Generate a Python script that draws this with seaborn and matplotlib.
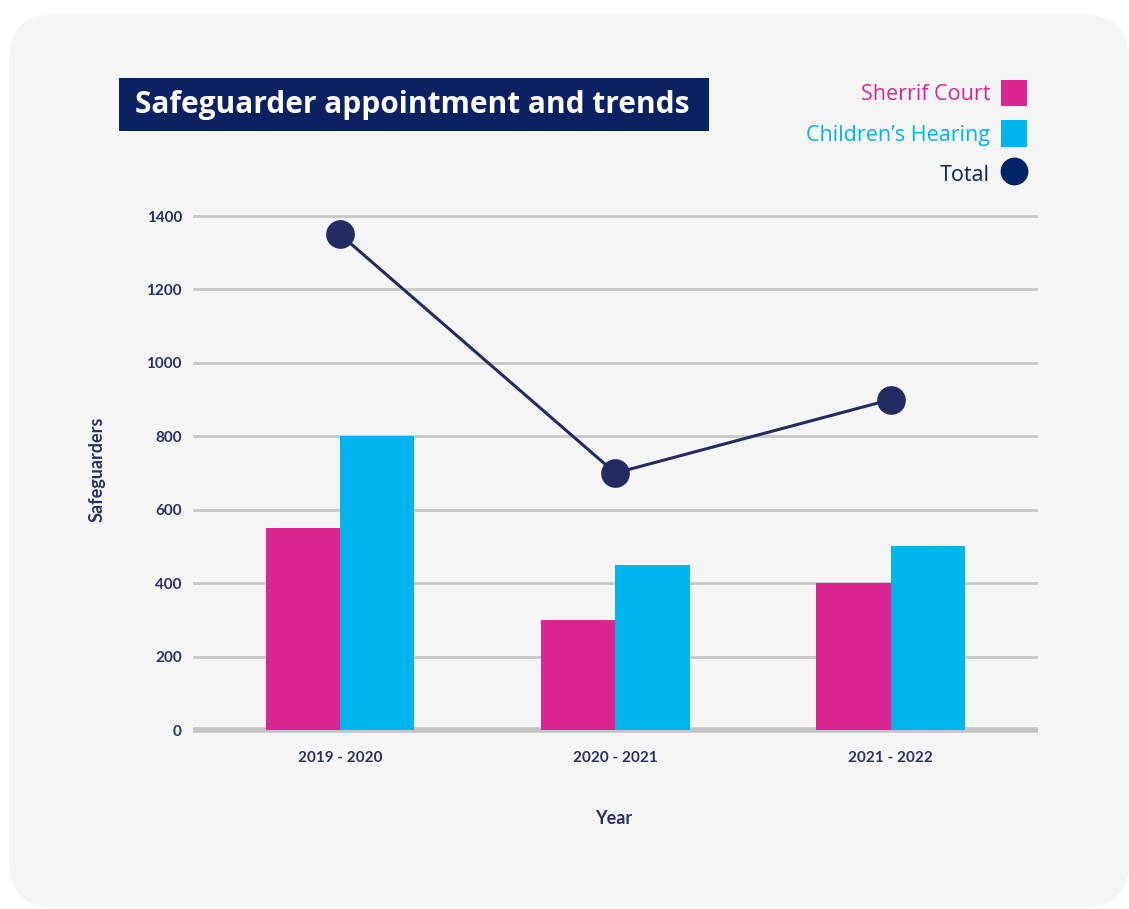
import matplotlib
matplotlib.use('Agg')
import matplotlib.pyplot as plt
import seaborn as sns
import pandas as pd
from matplotlib.patches import Patch, Rectangle, FancyBboxPatch
from matplotlib.lines import Line2D

years = ['2019 - 2020', '2020 - 2021', '2021 - 2022']
sherrif_court = [550, 300, 400]
childrens_hearing = [800, 450, 500]
total = [1350, 700, 900]
series_names = ['Sherrif Court', 'Children\u2019s Hearing']
y_ticks = [0, 200, 400, 600, 800, 1000, 1200, 1400]

pink = '#dc2590'
cyan = '#00b4ee'
navy = '#0b2161'
line_navy = '#242a62'
tick_navy = '#2a2f68'

df = pd.DataFrame({
    'Year': years * 2,
    'Safeguarders': sherrif_court + childrens_hearing,
    'Type': [series_names[0]] * 3 + [series_names[1]] * 3,
})

sns.set_style('white')
plt.rcParams['font.family'] = ['Lato', 'DejaVu Sans']

fig = plt.figure(figsize=(11.29, 9.09), dpi=100)
fig.patch.set_facecolor('white')

# light grey card behind everything
card = FancyBboxPatch((0.008, 0.002), 0.992, 0.982, boxstyle='round,pad=0,rounding_size=0.04',
                      transform=fig.transFigure, facecolor='#f5f5f5', edgecolor='none',
                      mutation_aspect=1129 / 909, zorder=-5)
fig.patches.append(card)

ax = fig.add_axes([0.171, 0.1936, 0.748, 0.5736])
ax.set_facecolor('none')

sns.barplot(data=df, x='Year', y='Safeguarders', hue='Type', order=years,
            hue_order=series_names, palette=[pink, cyan], width=0.54,
            saturation=1, linewidth=0, ax=ax, legend=False, zorder=3)
sns.pointplot(x=years, y=total, order=years, color=line_navy, markers='o',
              markersize=19, linewidth=2.2, errorbar=None, ax=ax, zorder=4)

ax.set_xlim(-0.534, 2.534)
ax.set_ylim(-8, 1412)
ax.set_yticks(y_ticks)
ax.yaxis.grid(True, color='#c8c8c8', linewidth=2)
ax.xaxis.grid(False)
ax.set_axisbelow(True)
ax.axhline(0, color='#c4c4c4', linewidth=4, zorder=2)
sns.despine(ax=ax, left=True, bottom=True)
ax.tick_params(axis='both', length=0, labelcolor=tick_navy, labelsize=11)
ax.tick_params(axis='y', pad=8)
ax.tick_params(axis='x', pad=13)
for lbl in ax.get_xticklabels() + ax.get_yticklabels():
    lbl.set_fontweight('bold')

ax.set_ylabel('Safeguarders', color=tick_navy, fontsize=13, fontweight='bold')
ax.set_xlabel('Year', color=tick_navy, fontsize=13, fontweight='bold')
ax.yaxis.set_label_coords(-0.104, 0.505)
ax.xaxis.set_label_coords(0.498, -0.148)

# title box
fig.patches.append(Rectangle((119 / 1129, 1 - 131 / 909), 590 / 1129, 53 / 909,
                             transform=fig.transFigure, facecolor=navy, edgecolor='none', zorder=1))
fig.text(135 / 1129, 1 - 104.5 / 909, 'Safeguarder appointment and trends', color='white',
         fontsize=21.5, fontweight='bold', va='center', ha='left', zorder=2,
         family=['Open Sans', 'DejaVu Sans'])

handles = [
    Patch(facecolor=pink, edgecolor='none'),
    Patch(facecolor=cyan, edgecolor='none'),
    Line2D([], [], marker='o', markersize=19, color='#012468', linestyle=''),
]
fig.legend(handles, series_names + ['Total'], loc='upper right',
           bbox_to_anchor=(1027 / 1129, 1 - 80 / 909), frameon=False, markerfirst=False,
           handlelength=1.22, handleheight=1.5, labelspacing=0.66,
           handletextpad=0.5, borderpad=0, borderaxespad=0,
           labelcolor=[pink, cyan, navy], prop={'family': ['Open Sans', 'DejaVu Sans'], 'size': 15.5})

fig.savefig('out.png', dpi=100)
